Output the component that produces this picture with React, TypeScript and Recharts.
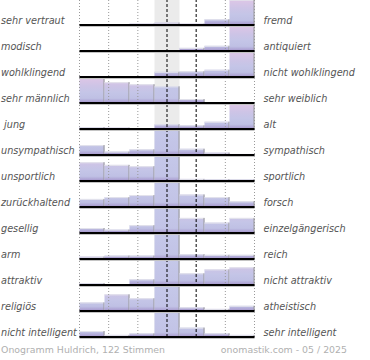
import React from 'react';
import { BarChart, Bar, XAxis, YAxis, ReferenceLine } from 'recharts';

const COLUMNS = [1, 2, 3, 4, 5, 6, 7];
const COLUMN_BOUNDS = [0, 1, 2, 3, 4, 5, 6, 7];
const NEUTRAL_BOUNDS = [3, 4];

const LEFT_LABELS = [
  'sehr vertraut', 'modisch', 'wohlklingend', 'sehr männlich', ' jung',
  'unsympathisch', 'unsportlich', 'zurückhaltend', 'gesellig', 'arm',
  'attraktiv', 'religiös', 'nicht intelligent',
];
const RIGHT_LABELS = [
  'fremd', 'antiquiert', 'nicht wohlklingend', 'sehr weiblich', 'alt',
  'sympathisch', 'sportlich', 'forsch', 'einzelgängerisch', 'reich',
  'nicht attraktiv', 'atheistisch', 'sehr intelligent',
];

const vertrautFremd = [0, 0, 5, 9, 5, 22, 97];
const modischAntiquiert = [0, 0, 0, 0, 12, 20, 96];
const wohlklingendNicht = [3, 3, 3, 20, 22, 28, 97];
const maennlichWeiblich = [97, 80, 72, 64, 15, 0, 0];
const jungAlt = [7, 5, 0, 18, 14, 28, 96];
const unsympathischSympathisch = [38, 13, 22, 100, 24, 9, 4];
const unsportlichSportlich = [72, 62, 57, 100, 8, 7, 7];
const zurueckhaltendForsch = [31, 38, 46, 100, 48, 38, 22];
const geselligEinzelgaengerisch = [19, 13, 30, 100, 58, 40, 58];
const armReich = [9, 13, 13, 100, 18, 16, 16];
const attraktivNicht = [7, 0, 22, 100, 45, 60, 68];
const religioesAtheistisch = [33, 64, 49, 100, 14, 8, 20];
const intelligentSehr = [23, 8, 14, 100, 36, 14, 8];

const ROWS = [
  vertrautFremd, modischAntiquiert, wohlklingendNicht, maennlichWeiblich, jungAlt,
  unsympathischSympathisch, unsportlichSportlich, zurueckhaltendForsch,
  geselligEinzelgaengerisch, armReich, attraktivNicht, religioesAtheistisch, intelligentSehr,
];

const N = ROWS.length;
const ROW_UNIT = 100;
const BASELINES = ROWS.map((_, k) => k * ROW_UNIT);

const data = COLUMNS.map((c, i) => {
  const o: Record<string, number> = { c };
  ROWS.forEach((r, k) => {
    o['v' + k] = r[i];
    o['f' + k] = ROW_UNIT - r[i];
  });
  return o;
});

const FONT = '"DejaVu Sans", sans-serif';

function makeShape(k: number) {
  return (p: any) => {
    const val = ROWS[k][p.index];
    if (!val || !p.height) return <g />;
    const baseline = p.y + p.height;
    const rowH = (p.height * ROW_UNIT) / val;
    const top = baseline - rowH;
    const neutral = p.index === 3;
    const id = `g-${k}-${p.index}`;
    return (
      <g>
        <defs>
          <linearGradient id={id} gradientUnits="userSpaceOnUse" x1={0} y1={top} x2={0} y2={baseline}>
            {neutral ? (
              <>
                <stop offset="0%" stopColor="#c5c8e9" />
                <stop offset="82%" stopColor="#c2c3e6" />
                <stop offset="100%" stopColor="#a697cc" />
              </>
            ) : (
              <>
                <stop offset="0%" stopColor="#dfc6e6" />
                <stop offset="35%" stopColor="#cdc4e6" />
                <stop offset="60%" stopColor="#c4c5e7" />
                <stop offset="82%" stopColor="#bfc0e4" />
                <stop offset="100%" stopColor="#a494cb" />
              </>
            )}
          </linearGradient>
        </defs>
        <rect x={p.x} y={p.y} width={p.width} height={p.height} fill={`url(#${id})`} />
        <line x1={p.x} x2={p.x + p.width} y1={p.y + 0.5} y2={p.y + 0.5} stroke="#e4e4ec" strokeWidth={1} />
        <line x1={p.x + p.width - 0.5} x2={p.x + p.width - 0.5} y1={p.y} y2={baseline} stroke="#999" strokeWidth={1} />
      </g>
    );
  };
}

const neutralBackground = (p: any) =>
  p.index === 3 ? <rect x={p.x} y={p.y} width={p.width} height={p.height} fill="#ebebeb" /> : <g />;

const LeftTick = (p: any) => {
  const k = N - 1 - p.payload.value / ROW_UNIT;
  return (
    <text x={1} y={p.y - 1} fontSize={9.7} fontStyle="italic" fill="#555" fontFamily={FONT} style={{ whiteSpace: 'pre' }}>
      {LEFT_LABELS[k]}
    </text>
  );
};

const RightTick = (p: any) => {
  const k = N - 1 - p.payload.value / ROW_UNIT;
  return (
    <text x={p.x} y={p.y - 1} fontSize={9.7} fontStyle="italic" fill="#555" fontFamily={FONT} textAnchor="start">
      {RIGHT_LABELS[k]}
    </text>
  );
};

export default function App() {
  const bars: React.ReactNode[] = [];
  for (let k = N - 1; k >= 0; k--) {
    bars.push(
      <Bar
        key={'v' + k}
        dataKey={'v' + k}
        stackId="s"
        yAxisId="l"
        isAnimationActive={false}
        shape={makeShape(k)}
        background={k === N - 1 ? neutralBackground : undefined}
      />
    );
    bars.push(
      <Bar key={'f' + k} dataKey={'f' + k} stackId="s" yAxisId="l" fill="none" isAnimationActive={false} />
    );
  }
  return (
    <div style={{ position: 'absolute', left: 0, top: 0, width: 370, height: 360, fontFamily: FONT }}>
      <BarChart
        width={370}
        height={360}
        data={data}
        margin={{ top: -1, right: 0, bottom: 23, left: 0 }}
        barCategoryGap={0}
        barGap={0}
      >
        <XAxis dataKey="c" hide />
        <XAxis xAxisId="n" type="number" domain={[0, 7]} hide allowDataOverflow />
        <YAxis
          yAxisId="l"
          width={79.5}
          domain={[0, N * ROW_UNIT]}
          ticks={BASELINES}
          interval={0}
          axisLine={false}
          tickLine={false}
          tick={<LeftTick />}
          allowDataOverflow
        />
        <YAxis
          yAxisId="r"
          orientation="right"
          width={115.5}
          domain={[0, N * ROW_UNIT]}
          ticks={BASELINES}
          interval={0}
          axisLine={false}
          tickLine={false}
          tickMargin={3}
          tick={<RightTick />}
          allowDataOverflow
        />
        {bars}
        {COLUMN_BOUNDS.filter((b) => !NEUTRAL_BOUNDS.includes(b)).map((b) => (
          <ReferenceLine key={'d' + b} x={b} xAxisId="n" yAxisId="l" stroke="#999" strokeDasharray="1 2" />
        ))}
        {NEUTRAL_BOUNDS.map((b) => (
          <ReferenceLine key={'n' + b} x={b} xAxisId="n" yAxisId="l" stroke="#000" strokeDasharray="3 2" />
        ))}
        {BASELINES.map((b) => (
          <ReferenceLine key={'s' + b} y={b - 5} yAxisId="l" stroke="#c4c4c4" strokeWidth={1.5} ifOverflow="visible" />
        ))}
        {BASELINES.map((b) => (
          <ReferenceLine key={'b' + b} y={b} yAxisId="l" stroke="#000" strokeWidth={1.8} ifOverflow="visible" />
        ))}
      </BarChart>
      <div style={{ position: 'absolute', left: 1, top: 344, fontSize: 9.4, color: '#b0b0b0', lineHeight: '11px', whiteSpace: 'nowrap' }}>
        Onogramm Huldrich, 122 Stimmen
      </div>
      <div style={{ position: 'absolute', right: 23, top: 344, fontSize: 9.4, color: '#b0b0b0', lineHeight: '11px', whiteSpace: 'nowrap' }}>
        onomastik.com - 05 / 2025
      </div>
    </div>
  );
}
